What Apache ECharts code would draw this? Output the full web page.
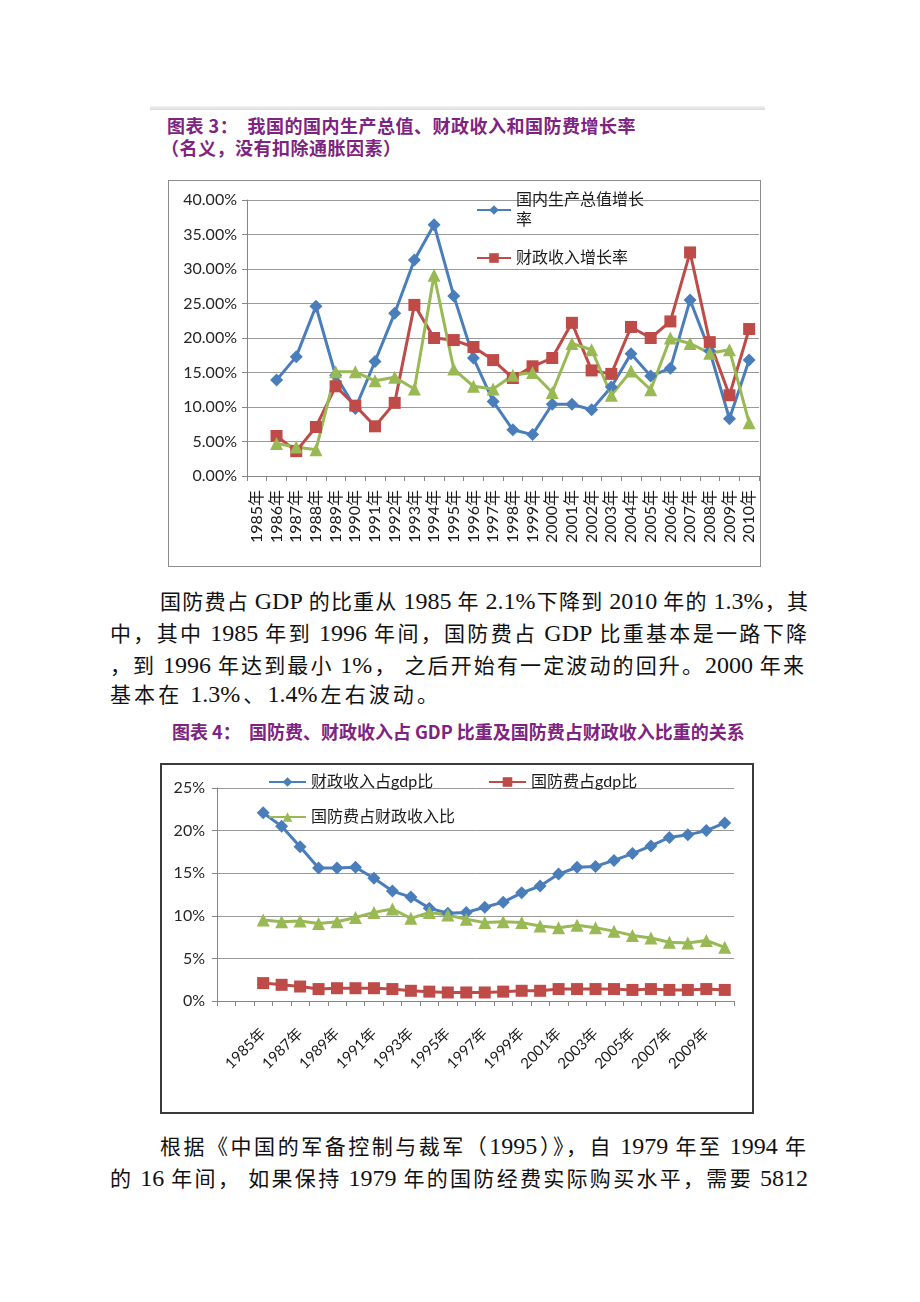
<!DOCTYPE html>
<html>
<head>
<meta charset="utf-8">
<script src="https://cdn.jsdelivr.net/npm/echarts@6/dist/echarts.min.js"></script>
<style>
  html, body { margin: 0; padding: 0; background: #fff; }
  #page { position: relative; width: 920px; height: 1302px; overflow: hidden; background: #fff; }
  .abs { position: absolute; }
  .title { font-family: "Noto Sans CJK SC", sans-serif; font-weight: bold; font-size: 18px; color: #7e2381; white-space: pre; line-height: 24px; height: 24px; letter-spacing: 0.5px; }
  .para { font-family: "Noto Sans CJK SC", serif; font-size: 21px; color: #111; white-space: pre; line-height: 30px; height: 30px; }
  .para .l { font-family: "Liberation Serif", serif; font-size: 24px; }
  .just { text-align: justify; text-align-last: justify; white-space: normal; }
  .frame { box-sizing: border-box; }
</style>
</head>
<body>
<div id="page">
  <div class="abs" style="left:150px;top:106px;width:615px;height:4px;background:linear-gradient(#f4f4f4,#dadada);"></div>
  <div class="abs title" style="left:167px;top:113px;">图表 3：  我国的国内生产总值、财政收入和国防费增长率</div>
  <div class="abs title" style="left:161px;top:135px;">（名义，没有扣除通胀因素）</div>

  <div class="abs frame" style="left:168px;top:180px;width:593px;height:387px;border:1px solid #8c8c8c;"></div>
  <div id="c1" class="abs" style="left:168px;top:180px;width:593px;height:387px;"></div>

  <div class="abs para just" style="left:160px;top:585px;width:648px;">国防费占 <span class="l">GDP</span> 的比重从 <span class="l">1985</span> 年 <span class="l">2.1%</span>下降到 <span class="l">2010</span> 年的 <span class="l">1.3%</span>，其</div>
  <div class="abs para just" style="left:110px;top:617px;width:697px;">中，其中 <span class="l">1985</span> 年到 <span class="l">1996</span> 年间，国防费占 <span class="l">GDP</span> 比重基本是一路下降</div>
  <div class="abs para just" style="left:110px;top:649px;width:694px;">，到 <span class="l">1996</span> 年达到最小 <span class="l">1%</span>， 之后开始有一定波动的回升。<span class="l">2000</span> 年来</div>
  <div class="abs para just" style="left:110px;top:678px;width:328px;">基本在 <span class="l">1.3%</span>、<span class="l">1.4%</span>左右波动。</div>

  <div class="abs title" style="left:172px;top:719px;letter-spacing:0px;">图表 4：  国防费、财政收入占 GDP 比重及国防费占财政收入比重的关系</div>

  <div class="abs frame" style="left:160px;top:763px;width:594px;height:351px;border:2px solid #3a3a3a;"></div>
  <div id="c2" class="abs" style="left:160px;top:763px;width:594px;height:351px;"></div>

  <div class="abs para just" style="left:160px;top:1130px;width:646px;">根据《中国的军备控制与裁军（<span class="l">1995</span>）》，自 <span class="l">1979</span> 年至 <span class="l">1994</span> 年</div>
  <div class="abs para just" style="left:110px;top:1162px;width:698px;">的 <span class="l">16</span> 年间， 如果保持 <span class="l">1979</span> 年的国防经费实际购买水平，需要 <span class="l">5812</span></div>
</div>
<script>
// ---------- Chart 3 data ----------
var years1 = ['1985年','1986年','1987年','1988年','1989年','1990年','1991年','1992年','1993年','1994年','1995年','1996年','1997年','1998年','1999年','2000年','2001年','2002年','2003年','2004年','2005年','2006年','2007年','2008年','2009年','2010年'];
var gdpGrowth = ['-', 13.9, 17.3, 24.6, 14.6, 9.8, 16.6, 23.6, 31.3, 36.4, 26.1, 17.1, 10.8, 6.7, 6.0, 10.4, 10.4, 9.6, 12.9, 17.7, 14.5, 15.6, 25.5, 18.1, 8.3, 16.8];
var revenueGrowth = ['-', 5.8, 3.6, 7.1, 13.0, 10.2, 7.2, 10.6, 24.8, 20.0, 19.7, 18.7, 16.8, 14.2, 15.9, 17.1, 22.2, 15.3, 14.8, 21.6, 20.0, 22.4, 32.4, 19.4, 11.7, 21.3];
var defenseGrowth = ['-', 4.7, 4.2, 3.8, 15.1, 15.1, 13.8, 14.3, 12.6, 29.1, 15.5, 13.0, 12.6, 14.6, 15.0, 12.1, 19.2, 18.3, 11.7, 15.2, 12.5, 20.0, 19.2, 17.8, 18.3, 7.7];
var names1 = ['国内生产总值增长率', '财政收入增长率', '国防费增长率'];

// ---------- Chart 4 data ----------
var years2 = ['', '', '1985年','1986年','1987年','1988年','1989年','1990年','1991年','1992年','1993年','1994年','1995年','1996年','1997年','1998年','1999年','2000年','2001年','2002年','2003年','2004年','2005年','2006年','2007年','2008年','2009年','2010年'];
var revenueToGdp = ['-', '-', 22.1, 20.5, 18.1, 15.6, 15.6, 15.7, 14.4, 12.9, 12.2, 10.9, 10.3, 10.4, 11.0, 11.6, 12.7, 13.5, 14.9, 15.7, 15.8, 16.5, 17.3, 18.2, 19.2, 19.5, 20.0, 20.9];
var defenseToGdp = ['-', '-', 2.1, 1.9, 1.7, 1.4, 1.5, 1.5, 1.5, 1.4, 1.2, 1.1, 1.0, 1.0, 1.0, 1.1, 1.2, 1.2, 1.4, 1.4, 1.4, 1.4, 1.3, 1.4, 1.3, 1.3, 1.4, 1.3];
var defenseToRevenue = ['-', '-', 9.5, 9.3, 9.4, 9.1, 9.3, 9.8, 10.4, 10.8, 9.7, 10.4, 10.1, 9.6, 9.2, 9.3, 9.2, 8.8, 8.6, 8.9, 8.6, 8.2, 7.7, 7.4, 6.9, 6.8, 7.1, 6.3];
var names2 = ['财政收入占gdp比', '国防费占gdp比', '国防费占财政收入比'];

var BLUE = '#4A7EBB', RED = '#BE4B48', GREEN = '#98B954';
var FONT = 'Lato, "Noto Sans CJK SC", sans-serif';
var GRID = '#9a9a9a', AX = '#868686';

function lineSeries(name, data, color, symbol, size) {
  return {
    name: name, type: 'line', data: data, symbol: symbol, symbolSize: size,
    showAllSymbol: true,
    lineStyle: { width: 3, color: color }, itemStyle: { color: color },
    emphasis: { disabled: true }, animation: false
  };
}

var c1 = echarts.init(document.getElementById('c1'));
c1.setOption({
  animation: false,
  grid: { left: 79, right: 2, top: 20, bottom: 91 },
  legend: [
    { data: [names1[0]], left: 308, top: 0, padding: 0, itemWidth: 34, itemHeight: 12,
      formatter: function () { return '国内生产总值增长\n率'; },
      textStyle: { fontSize: 16, lineHeight: 20, padding: [20, 0, 0, 0], color: '#1a1a1a', fontFamily: FONT } },
    { data: [names1[1]], left: 308, top: 68, padding: 0, itemWidth: 34, itemHeight: 12,
      textStyle: { fontSize: 16, lineHeight: 20, color: '#1a1a1a', fontFamily: FONT } }
  ],
  xAxis: {
    type: 'category', data: years1, boundaryGap: true,
    axisLine: { lineStyle: { color: AX } },
    axisTick: { show: true, length: 5, interval: 0, lineStyle: { color: AX } },
    axisLabel: { rotate: 90, interval: 0, fontSize: 16, color: '#1a1a1a', margin: 14, fontFamily: FONT }
  },
  yAxis: {
    type: 'value', min: 0, max: 40, interval: 5,
    axisLine: { show: true, lineStyle: { color: AX } },
    axisTick: { show: true, length: 5, lineStyle: { color: AX } },
    axisLabel: { formatter: function (v) { return v.toFixed(2) + '%'; }, fontSize: 16, color: '#262626', margin: 10, fontFamily: FONT },
    splitLine: { lineStyle: { color: GRID } }
  },
  series: [
    lineSeries(names1[0], gdpGrowth, BLUE, 'diamond', 13),
    lineSeries(names1[1], revenueGrowth, RED, 'rect', 12),
    lineSeries(names1[2], defenseGrowth, GREEN, 'triangle', 13)
  ]
});

var c2 = echarts.init(document.getElementById('c2'));
var legText = { fontSize: 16, lineHeight: 20, color: '#1a1a1a', fontFamily: FONT };
c2.setOption({
  animation: false,
  grid: { left: 57, right: 20, top: 25, bottom: 113 },
  legend: [
    { data: [names2[0]], left: 108, top: 9, padding: 0, itemWidth: 37, itemHeight: 12, textStyle: legText },
    { data: [names2[1]], left: 328, top: 9, padding: 0, itemWidth: 37, itemHeight: 12, textStyle: legText },
    { data: [names2[2]], left: 108, top: 44, padding: 0, itemWidth: 37, itemHeight: 12, textStyle: legText }
  ],
  xAxis: {
    type: 'category', data: years2, boundaryGap: true,
    axisLine: { lineStyle: { color: AX } },
    axisTick: { show: true, length: 5, interval: 0, lineStyle: { color: AX } },
    axisLabel: { rotate: 45, interval: 1, fontSize: 15, color: '#1a1a1a', margin: 30, fontFamily: FONT }
  },
  yAxis: {
    type: 'value', min: 0, max: 25, interval: 5,
    axisLine: { show: true, lineStyle: { color: AX } },
    axisTick: { show: true, length: 5, lineStyle: { color: AX } },
    axisLabel: { formatter: function (v) { return v + '%'; }, fontSize: 16, color: '#262626', margin: 12, fontFamily: FONT },
    splitLine: { lineStyle: { color: GRID } }
  },
  series: [
    lineSeries(names2[0], revenueToGdp, BLUE, 'diamond', 13),
    lineSeries(names2[1], defenseToGdp, RED, 'rect', 12),
    lineSeries(names2[2], defenseToRevenue, GREEN, 'triangle', 13)
  ]
});
</script>
</body>
</html>
